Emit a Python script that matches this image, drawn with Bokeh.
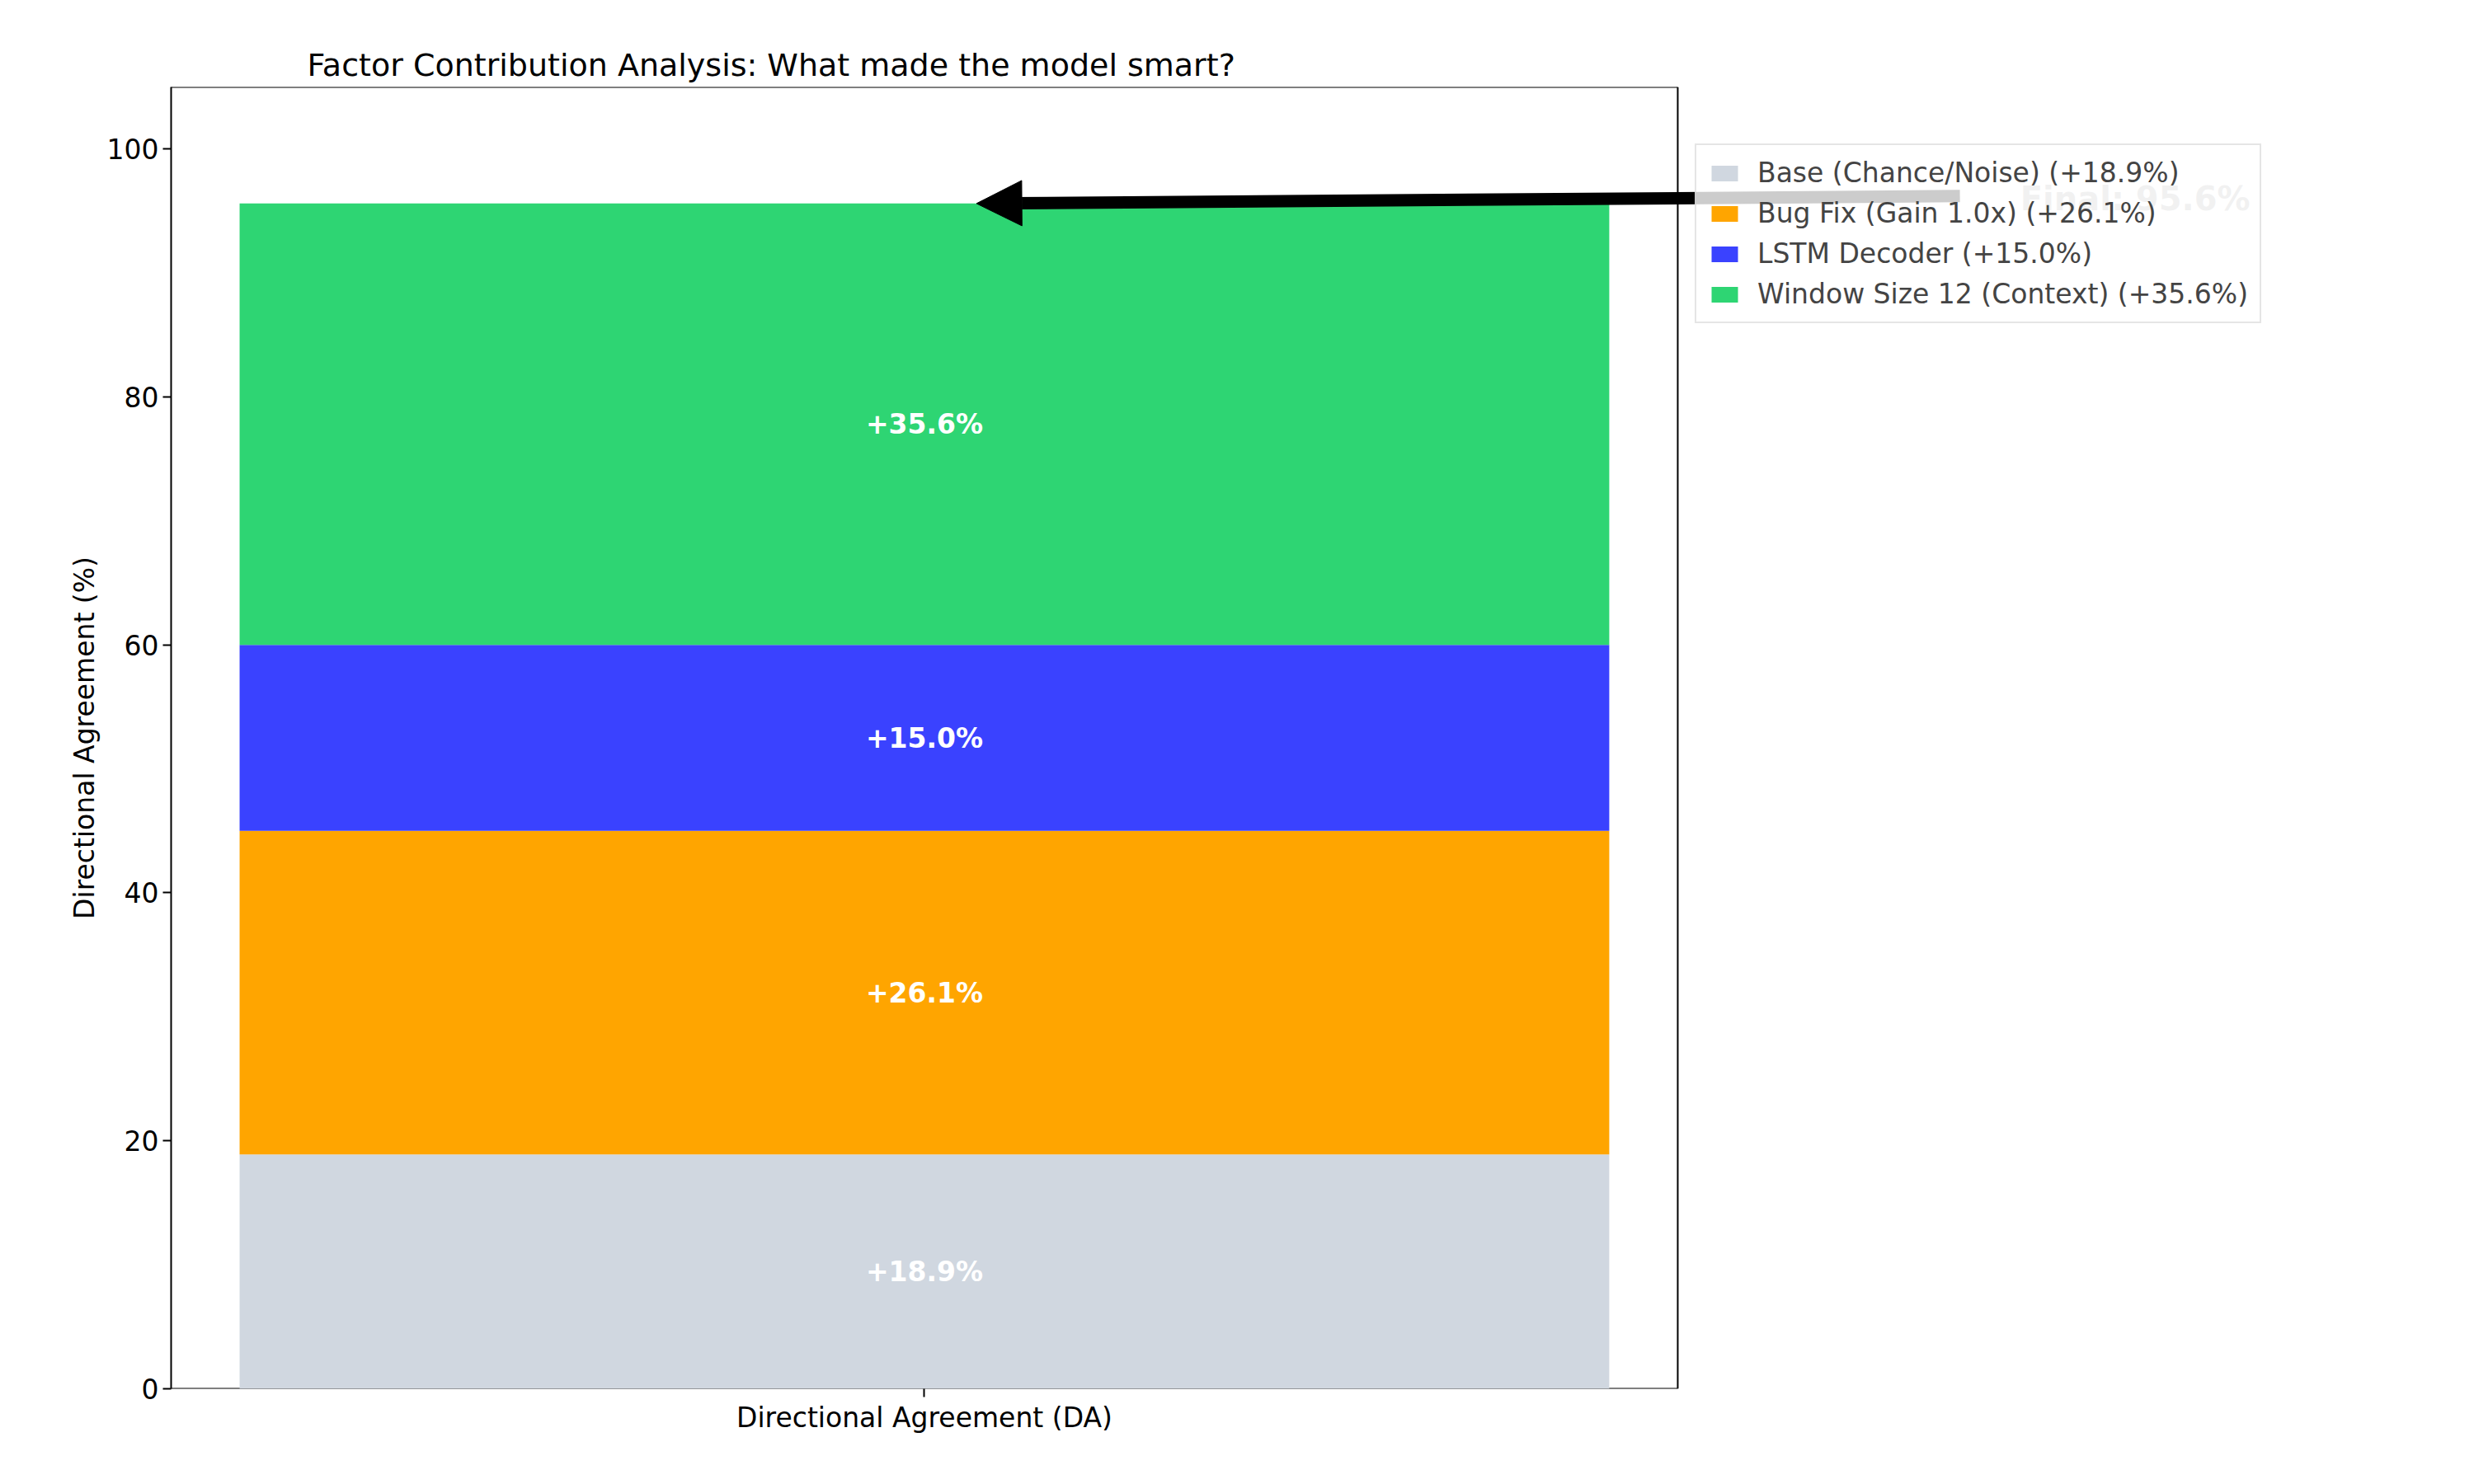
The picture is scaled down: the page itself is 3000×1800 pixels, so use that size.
import numpy as np
from bokeh.plotting import figure
from bokeh.models import ColumnDataSource, Legend, LegendItem, Arrow, NormalHead, FixedTicker, Label
from bokeh.embed import file_html
from bokeh.resources import INLINE

factors = ["Base (Chance/Noise)", "Bug Fix (Gain 1.0x)", "LSTM Decoder", "Window Size 12 (Context)"]
values = [18.9, 26.1, 15.0, 35.6]
colors = ["#d0d7e0", "#ffa500", "#3a42ff", "#2ed573"]
category = "Directional Agreement (DA)"
yticks = [0, 20, 40, 60, 80, 100]

tops = np.cumsum(values)
bottoms = tops - np.array(values)
total = float(tops[-1])

XL, XR, YT = -0.55, 0.55, 105
FONT = "DejaVu Sans"
p = figure(width=2984, height=1784, output_backend="svg", toolbar_location=None,
           x_range=(XL, 1.116), y_range=(0, YT),
           title="Factor Contribution Analysis: What made the model smart?",
           min_border_left=207, min_border_right=10, min_border_top=105, min_border_bottom=100)
p.title.text_font = FONT
p.title.text_font_size = "38px"
p.title.text_font_style = "normal"
p.title.text_color = "black"
p.title.align = "left"
p.title.offset = 165
p.grid.visible = False
p.outline_line_color = None

# axes box (spines) of the original plot area
p.segment(x0=[XL, XR, XL], y0=[YT, 0, 0], x1=[XR, XR, XR], y1=[YT, YT, 0],
          line_color="black", line_width=2)

items = []
for f, v, b, t, c in zip(factors, values, bottoms, tops, colors):
    src = ColumnDataSource(dict(x=[0], b=[b], t=[t]))
    r = p.vbar(x="x", bottom="b", top="t", width=1.0, source=src, fill_color=c, line_color=None)
    items.append(LegendItem(label=f"{f} (+{v:.1f}%)", renderers=[r]))
    p.text(x=[0], y=[(b + t) / 2], text=[f"+{v:.1f}%"], text_color="white",
           text_font_style="bold", text_font_size="33px", text_align="center",
           text_baseline="middle", text_font={"value": FONT})

p.add_layout(Label(x=0.8, y=total + 0.4, text=f"Final: {total:.1f}%", text_color="#bbbbbb",
                   text_font_style="bold", text_font_size="40px", text_baseline="middle",
                   text_font=FONT))
p.add_layout(Arrow(x_start=0.756, y_start=total + 0.6, x_end=0.038, y_end=total,
                   line_width=15, line_color="black",
                   end=NormalHead(size=55, fill_color="black", line_color="black")))

leg = Legend(items=items, location=(1848, 1292), label_text_font=FONT, label_text_font_size="33px",
             glyph_width=40, glyph_height=24, spacing=10, padding=14, label_standoff=20,
             border_line_color="#cccccc", border_line_width=2, background_fill_alpha=0.8)
p.add_layout(leg, "center")

p.xaxis.ticker = FixedTicker(ticks=[0])
p.xaxis.major_label_overrides = {0: category}
p.xaxis.axis_line_color = None
p.yaxis.ticker = FixedTicker(ticks=yticks)
p.yaxis.axis_label = "Directional Agreement (%)"
for ax in (p.xaxis, p.yaxis):
    ax.major_label_text_font = FONT
    ax.major_label_text_font_size = "33px"
    ax.major_label_text_color = "black"
    ax.axis_label_text_font = FONT
    ax.axis_label_text_font_size = "33px"
    ax.axis_label_text_color = "black"
    ax.axis_label_text_font_style = "normal"
    ax.minor_tick_line_color = None
    ax.major_tick_in = 0
    ax.major_tick_out = 10
    ax.major_tick_line_width = 2
    ax.axis_line_width = 2

open("out.html", "w").write(file_html(p, INLINE))
